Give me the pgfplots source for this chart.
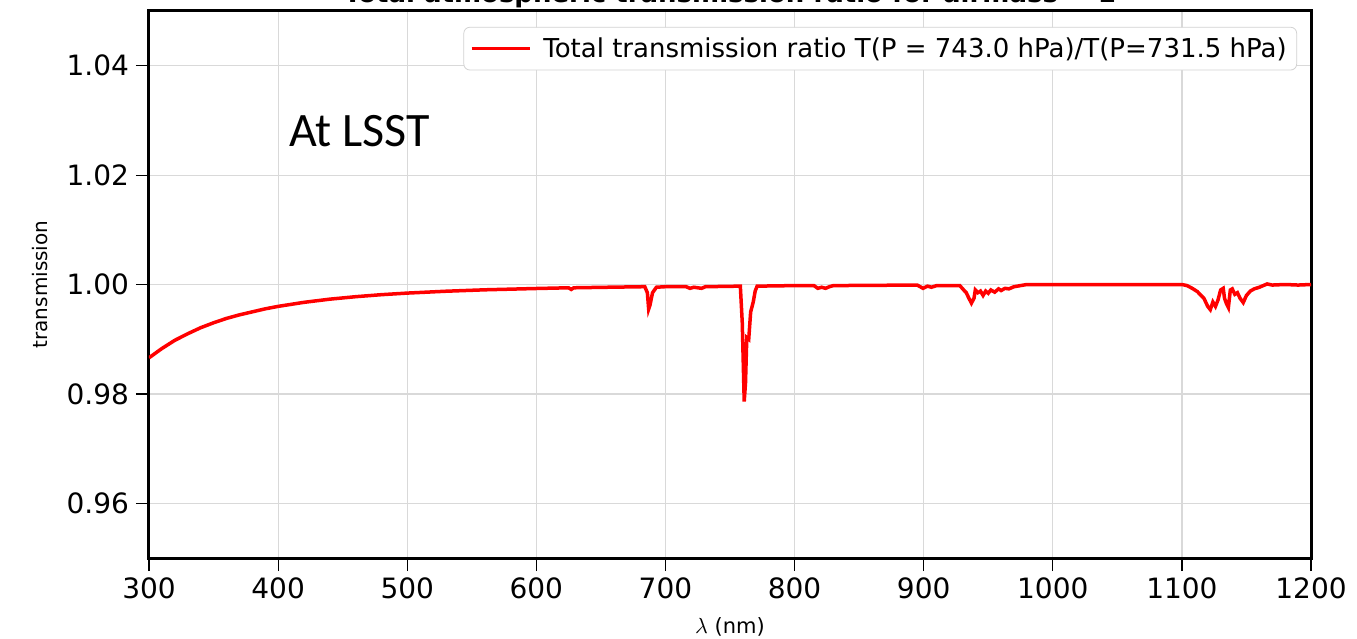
\documentclass[border=0pt]{standalone}
\usepackage{fontspec}
\setmainfont{DejaVu Sans}
\newfontfamily\calibri{Carlito}
\usepackage{pgfplots}
\pgfplotsset{compat=1.18}
\usepackage{pgfplotstable}

% Ratio of total transmissions at two pressures, airmass 1
\pgfplotstableread{
lambda ratio
300 0.9866
310 0.9883
320 0.9898
330 0.9910
340 0.9921
350 0.9930
360 0.9938
370 0.99445
380 0.9950
390 0.99555
400 0.9960
420 0.99674
440 0.99732
460 0.99777
480 0.99814
500 0.99843
530 0.99877
560 0.99903
600 0.99927
625 0.9994
627 0.9991
629 0.9994
650 0.99948
684 0.9996
686 0.9985
687 0.9955
688 0.9962
690 0.9985
693 0.9995
700 0.9996
716 0.9996
719 0.9993
722 0.9995
725 0.9994
728 0.9993
731 0.9996
758 0.9997
759.5 0.9930
761 0.9786
762 0.9820
763 0.9903
764.5 0.9900
766 0.9950
768 0.9968
769.5 0.9988
771 0.9997
800 0.9998
815 0.9998
818 0.9993
821 0.9995
824 0.9993
827 0.9996
830 0.9998
895 0.9999
899.5 0.9993
903 0.9997
906 0.9995
910 0.9998
928 0.9998
931 0.9990
933 0.9985
935 0.9975
937 0.9966
939 0.9975
940 0.9990
942 0.9985
944 0.9988
946 0.9980
948 0.9988
950 0.9984
952 0.9990
955 0.9986
958 0.9992
960 0.9989
963 0.9993
966 0.9992
970 0.9996
975 0.9998
980 1.0000
1000 1.0000
1100 1.0000
1104 0.9998
1108 0.9993
1112 0.9987
1114 0.9982
1117 0.9975
1120 0.9960
1122 0.9954
1124 0.9968
1126 0.9960
1128 0.9972
1130 0.9990
1132 0.9993
1133 0.9975
1134.5 0.9965
1136 0.9958
1137.5 0.9990
1139 0.9992
1141 0.9982
1143 0.9985
1145 0.9975
1147.5 0.9967
1150 0.9980
1153 0.9988
1156 0.9992
1160 0.9995
1164 0.9999
1166 1.0001
1170 0.9999
1180 1.0000
1190 0.9999
1200 1.0000
}\ratiotable

\begin{document}
\begin{tikzpicture}
\begin{axis}[
  name=main,
  scale only axis,
  width=581pt, height=273.5pt,
  xmin=300, xmax=1200, ymin=0.95, ymax=1.05,
  xtick={300,400,...,1200},
  ytick={0.96,0.98,1.00,1.02,1.04},
  axis line style={black, line width=1.5pt},
  tick align=outside,
  major tick length=6.5pt,
  tick style={black, line width=0.6pt},
  xtick pos=bottom, ytick pos=left,
  grid=major,
  major grid style={gray!30, line width=0.6pt},
  tick label style={font=\fontsize{14}{16}\selectfont},
  /pgf/number format/assume math mode=true,
  xticklabel style={/pgf/number format/1000 sep={}},
  yticklabel style={/pgf/number format/.cd, fixed, fixed zerofill, precision=2},
  every axis y label/.style={at={(axis description cs:-0.094,0.5)}, anchor=center, rotate=90},
  every axis x label/.style={at={(axis description cs:0.5,-0.126)}, anchor=center},
  ylabel={\fontsize{10}{12}\selectfont transmission},
  xlabel={\fontsize{10.5}{12}\selectfont $\lambda$ (nm)},
  legend style={at={(rel axis cs:0.988,0.971)}, anchor=north east,
    draw=gray!35, rounded corners=3pt, fill=white, inner sep=3pt,
    font=\fontsize{13}{15}\selectfont},
  legend cell align=left,
  legend image code/.code={\draw[#1] (0pt,0pt) -- (29pt,0pt); \path (33pt,0pt);},
]
\addplot[red, line width=1.75pt] table[x=lambda, y=ratio] {\ratiotable};
\addlegendentry{Total transmission ratio T(P = 743.0 hPa)/T(P=731.5 hPa)}
\node[anchor=base west, font=\calibri\fontsize{24}{29}\selectfont] at (axis cs:403,1.0252) {At LSST};
\end{axis}
\node[anchor=base, font=\bfseries\fontsize{13}{15}\selectfont, yshift=4pt] at (main.north) {Total atmospheric transmission ratio for airmass = 1};
\pgfresetboundingbox
\path[use as bounding box] ([xshift=-74.5pt,yshift=-40pt]main.south west) rectangle ([xshift=23pt,yshift=5.5pt]main.north east);
\end{tikzpicture}
\end{document}
